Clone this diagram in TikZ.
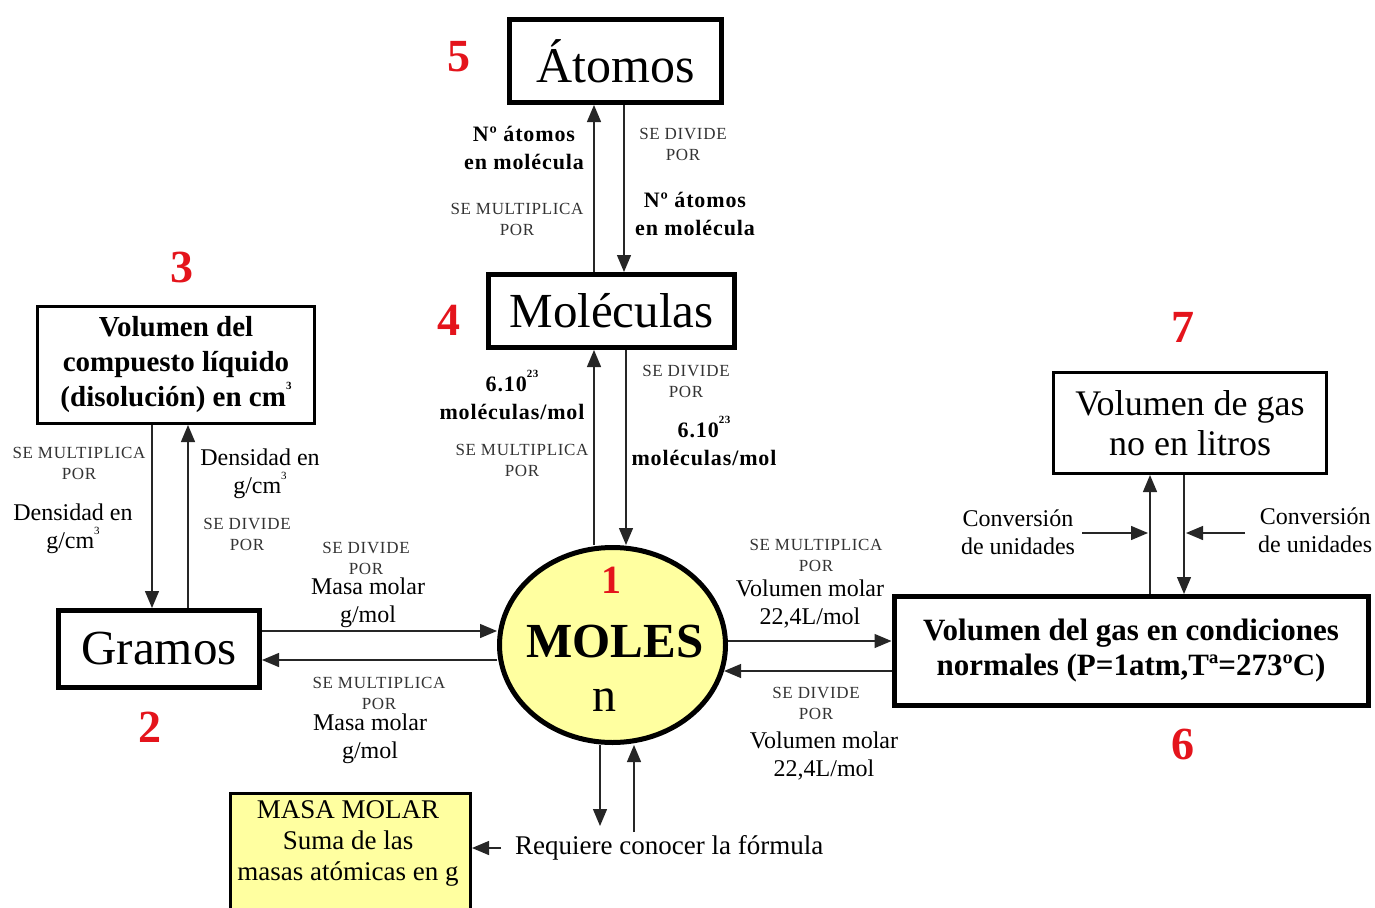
\documentclass[tikz,border=0pt]{standalone}
\usepackage{fontspec}
\setmainfont{Liberation Serif}
\usetikzlibrary{arrows.meta,shapes.geometric,calc}
\definecolor{numred}{RGB}{228,20,28}
\definecolor{paleyellow}{RGB}{255,255,160}
\newcommand\tinysup[1]{\raisebox{.6em}{\fontsize{11}{11}\selectfont #1}}
\tikzset{
  box/.style={draw, line width=5pt, inner sep=0pt, align=center},
  thinbox/.style={draw, line width=3pt, inner sep=0pt, align=center},
  arr/.style={line width=1.3pt, draw=black!85, -{Triangle[width=14pt,length=17pt]}},
  sm/.style={font=\fontsize{17}{21}\addfontfeatures{LetterSpace=4}, text=black!80, align=center, inner sep=0pt},
  bl/.style={font=\fontsize{22}{28}\bfseries\addfontfeatures{LetterSpace=4}, align=center, inner sep=0pt},
  rg/.style={font=\fontsize{24}{28}\selectfont, align=center, inner sep=0pt},
  num/.style={font=\fontsize{46}{46}\bfseries\selectfont, text=numred, inner sep=0pt}
}
\begin{document}
\begin{tikzpicture}[x=1pt,y=-1pt]
\useasboundingbox (0,0) rectangle (1375,907);
\fill[white] (0,0) rectangle (1375,907);

% boxes
\node[box, minimum width=212, minimum height=83, font=\fontsize{50}{50}\selectfont] (atomos) at (615.5,61) {Átomos};
\node[box, minimum width=246, minimum height=73, font=\fontsize{49}{49}\selectfont] (molec) at (611.5,311) {Moléculas};
\node[thinbox, minimum width=277, minimum height=117, font=\fontsize{29}{35}\bfseries] (liq) at (176,365) {Volumen del\\compuesto líquido\\(disolución) en cm\tinysup{3}};
\node[box, minimum width=201, minimum height=77, font=\fontsize{49}{49}\selectfont] (gramos) at (159,649) {Gramos};
\node[box, ellipse, fill=paleyellow, minimum width=226, minimum height=195] (moles) at (612.5,645) {};
\node[box, minimum width=474, minimum height=109, font=\fontsize{31}{35}\bfseries] (gas) at (1131,651) {Volumen del gas en condiciones\\normales (P=1atm,Tª=273ºC)};
\node[thinbox, minimum width=273, minimum height=101, font=\fontsize{36}{40}\selectfont] (vol) at (1190,423) {Volumen de gas\\no en litros};
\node[thinbox, fill=paleyellow, minimum width=240, minimum height=124, font=\fontsize{27}{31}\selectfont, text depth=0pt] (masa) at (350.5,855) {};
\node[rg, font=\fontsize{27}{31}\selectfont] (masatxt) at (348,843) {MASA MOLAR\\Suma de las\\masas atómicas en g};

% moles contents
\node[num, font=\fontsize{40}{40}\bfseries\selectfont] (n1) at (611,580) {1};
\node[font=\fontsize{49}{49}\bfseries\selectfont, inner sep=0pt] (molestxt) at (615,642) {MOLES};
\node[font=\fontsize{48}{48}\selectfont, inner sep=0pt] (ntxt) at (604,700) {n};

% red numbers
\node[num] (n5) at (459,57) {5};
\node[num] (n4) at (449,320) {4};
\node[num] (n3) at (182,267) {3};
\node[num] (n2) at (150,727) {2};
\node[num] (n7) at (1183,327) {7};
\node[num] (n6) at (1183,744) {6};

% arrows atomos <-> moleculas
\draw[arr] (molec.north -| 594,0) -- (atomos.south -| 594,0);
\draw[arr] (atomos.south -| 624,0) -- (molec.north -| 624,0);
% moleculas <-> moles
\draw[arr] (moles.north -| 594,0) -- (molec.south -| 594,0);
\draw[arr] (molec.south -| 626,0) -- (moles.north -| 626,0);
% liquido <-> gramos
\draw[arr] (liq.south -| 152,0) -- (gramos.north -| 152,0);
\draw[arr] (gramos.north -| 188,0) -- (liq.south -| 188,0);
% gramos <-> moles
\draw[arr] (gramos.east |- 0,631) -- (moles.west |- 0,631);
\draw[arr] (moles.west |- 0,660) -- (gramos.east |- 0,660);
% moles <-> gas
\draw[arr] (moles.east |- 0,641) -- (gas.west |- 0,641);
\draw[arr] (gas.west |- 0,671) -- (moles.-13 |- 0,671);
% gas <-> vol
\draw[arr] (gas.north -| 1150,0) -- (vol.south -| 1150,0);
\draw[arr] (vol.south -| 1184,0) -- (gas.north -| 1184,0);
% conversion arrows
\coordinate (cl) at (1082,533);
\coordinate (cr) at (1245,533);
\draw[arr] (cl) -- (1148,533);
\draw[arr] (cr) -- (1186,533);
% below moles
\coordinate (md) at (600,826);
\coordinate (mu) at (634,832);
\draw[arr] (moles.south -| 600,0) -- (md);
\draw[arr] (mu) -- (moles.south -| 634,0);
% requiere
\coordinate (rq) at (501,848);
\draw[arr] (rq) -- (masa.east |- rq);
\node[rg, font=\fontsize{27}{31}\selectfont, anchor=west] (req) at (515,848) {Requiere conocer la fórmula};

% labels atomos/moleculas
\node[bl] (l1) at (524,148) {Nº átomos\\en molécula};
\node[sm] (l2) at (683,144) {SE DIVIDE\\POR};
\node[bl] (l3) at (695,214) {Nº átomos\\en molécula};
\node[sm] (l4) at (517,219) {SE MULTIPLICA\\POR};
% labels moleculas/moles
\node[bl] (l5) at (512,395) {6.10\tinysup{23}\\moléculas/mol};
\node[sm] (l6) at (686,381) {SE DIVIDE\\POR};
\node[bl] (l7) at (704,441) {6.10\tinysup{23}\\moléculas/mol};
\node[sm] (l8) at (522,460) {SE MULTIPLICA\\POR};
% labels liquido/gramos
\node[sm] (l9) at (79,463) {SE MULTIPLICA\\POR};
\node[rg] (l10) at (73,529) {Densidad en\\g/cm\tinysup{3}};
\node[rg] (l11) at (260,474) {Densidad en\\g/cm\tinysup{3}};
\node[sm] (l12) at (247,534) {SE DIVIDE\\POR};
% labels gramos/moles
\node[sm] (l13) at (366,558) {SE DIVIDE\\POR};
\node[rg] (l14) at (368,603) {Masa molar\\g/mol};
\node[sm] (l15) at (379,693) {SE MULTIPLICA\\POR};
\node[rg] (l16) at (370,739) {Masa molar\\g/mol};
% labels moles/gas
\node[sm] (l17) at (816,555) {SE MULTIPLICA\\POR};
\node[rg] (l18) at (810,604) {Volumen molar\\22,4L/mol};
\node[sm] (l19) at (816,703) {SE DIVIDE\\POR};
\node[rg] (l20) at (824,756) {Volumen molar\\22,4L/mol};
% conversion labels
\node[rg] (l21) at (1018,532) {Conversión\\de unidades};
\node[rg, anchor=west] (l22) at (1258,530) {Conversión\\de unidades};
\end{tikzpicture}
\end{document}
